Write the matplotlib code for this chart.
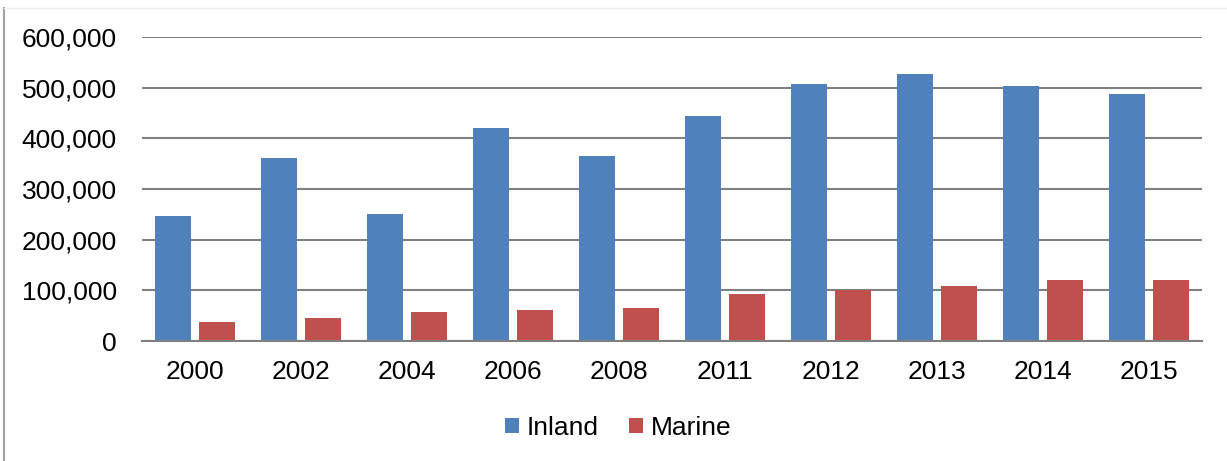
import numpy as np
import matplotlib
matplotlib.use('Agg')
import matplotlib.pyplot as plt
from matplotlib.lines import Line2D
from matplotlib.ticker import FuncFormatter

# data
years = ['2000', '2002', '2004', '2006', '2008', '2011', '2012', '2013', '2014', '2015']
inland = [246400, 361000, 250400, 420000, 365000, 444000, 507000, 527000, 503000, 487500]
marine = [37000, 45000, 56700, 60700, 64600, 92300, 100000, 108000, 120000, 120000]

plt.rcParams['font.family'] = ['Liberation Sans', 'DejaVu Sans']

fig = plt.figure(figsize=(12.27, 4.61), dpi=100)
ax = fig.add_axes([0.1157, 0.2603, 0.8639, 0.6594])

x = np.arange(len(years))
w = 0.34
off = 0.2075
ax.bar(x - off, inland, w, color='#4F81BD', label='Inland', zorder=3)
ax.bar(x + off, marine, w, color='#C0504D', label='Marine', zorder=3)

ax.set_xlim(-0.5, len(years) - 0.5)
ax.set_ylim(0, 600000)
ax.set_yticks(np.arange(0, 600001, 100000))
ax.yaxis.set_major_formatter(FuncFormatter(lambda v, p: f'{int(v):,}'))
ax.set_xticks(x)
ax.set_xticklabels(years)
ax.grid(axis='y', color='#808080', linewidth=1.5, zorder=0)
for s in ['top', 'right', 'left']:
    ax.spines[s].set_visible(False)
ax.spines['bottom'].set_color('#808080')
ax.spines['bottom'].set_linewidth(1.5)
ax.spines['bottom'].set_zorder(4)
ax.tick_params(axis='both', length=0, labelsize=19, colors='black')
ax.tick_params(axis='y', pad=18)
ax.tick_params(axis='x', pad=14)

fig.legend(loc='center', bbox_to_anchor=(0.504, 0.072), ncol=2, frameon=False,
           fontsize=19, handlelength=0.53, handleheight=0.53, handletextpad=0.3,
           columnspacing=1.15)

# thin frame lines around the chart area
fig.add_artist(Line2D([0.0035, 0.0035], [0.0, 0.983], color='#A0A0A0', linewidth=1.5))
fig.add_artist(Line2D([0.0035, 1.0], [0.983, 0.983], color='#EEEEEE', linewidth=1.0))

fig.savefig('out.png', dpi=100)
